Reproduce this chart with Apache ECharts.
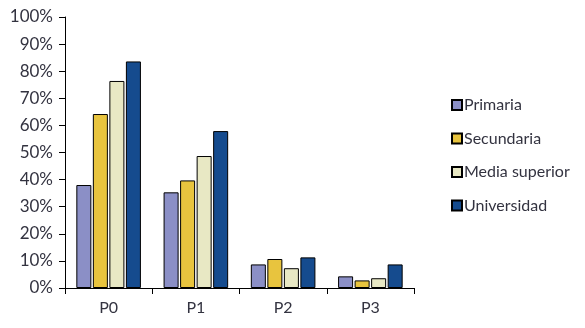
<!DOCTYPE html>
<html>
<head>
<meta charset="utf-8">
<script src="https://cdn.jsdelivr.net/npm/echarts@6/dist/echarts.min.js"></script>
<style>
  html, body { margin: 0; padding: 0; background: #fff; }
  #main { width: 585px; height: 328px; }
</style>
</head>
<body>
<div id="main"></div>
<script>
var chart = echarts.init(document.getElementById("main"))

var categories = ["P0", "P1", "P2", "P3"]
var seriesNames = ["Primaria", "Secundaria", "Media superior", "Universidad"]
var primaria = [38.0, 35.3, 8.7, 4.3]
var secundaria = [64.2, 39.7, 10.7, 2.8]
var mediaSuperior = [76.4, 48.7, 7.3, 3.6]
var universidad = [83.6, 57.9, 11.3, 8.7]
var colors = ["#8b8fc6", "#e8c43e", "#e8e8c4", "#154b8e"]

var values = [primaria, secundaria, mediaSuperior, universidad]
var fontFam = "Lato, 'Open Sans', sans-serif"

var series = []
for (var i = 0; i < seriesNames.length; i++) {
  series.push({
    name: seriesNames[i],
    type: "bar",
    data: values[i],
    barGap: "10%",
    barCategoryGap: "26%",
    itemStyle: {
      color: colors[i],
      borderColor: "#000",
      borderWidth: 1
    }
  })
}

option = {
  animation: false,
  grid: {
    left: 65,
    top: 17,
    width: 349,
    height: 271
  },
  legend: {
    orient: "vertical",
    left: 446,
    top: 92,
    itemWidth: 10,
    itemHeight: 10,
    itemGap: 17.5,
    icon: "rect",
    textStyle: {
      fontFamily: fontFam,
      fontSize: 16,
      color: "#333340",
      padding: [0, 0, 0, -3]
    },
    data: seriesNames
  },
  xAxis: {
    type: "category",
    data: categories,
    axisLine: { lineStyle: { color: "#000", width: 1 } },
    axisTick: { show: true, length: 6, lineStyle: { color: "#000" } },
    axisLabel: {
      margin: 12,
      fontFamily: fontFam,
      fontSize: 16,
      color: "#333340"
    }
  },
  yAxis: {
    type: "value",
    min: 0,
    max: 100,
    interval: 10,
    axisLine: { show: true, lineStyle: { color: "#000", width: 1 } },
    axisTick: { show: true, length: 6, lineStyle: { color: "#000" } },
    splitLine: { show: false },
    axisLabel: {
      margin: 12,
      formatter: "{value}%",
      fontFamily: fontFam,
      fontSize: 17,
      color: "#333340"
    }
  },
  series: series
}

chart.setOption(option)
</script>
</body>
</html>
